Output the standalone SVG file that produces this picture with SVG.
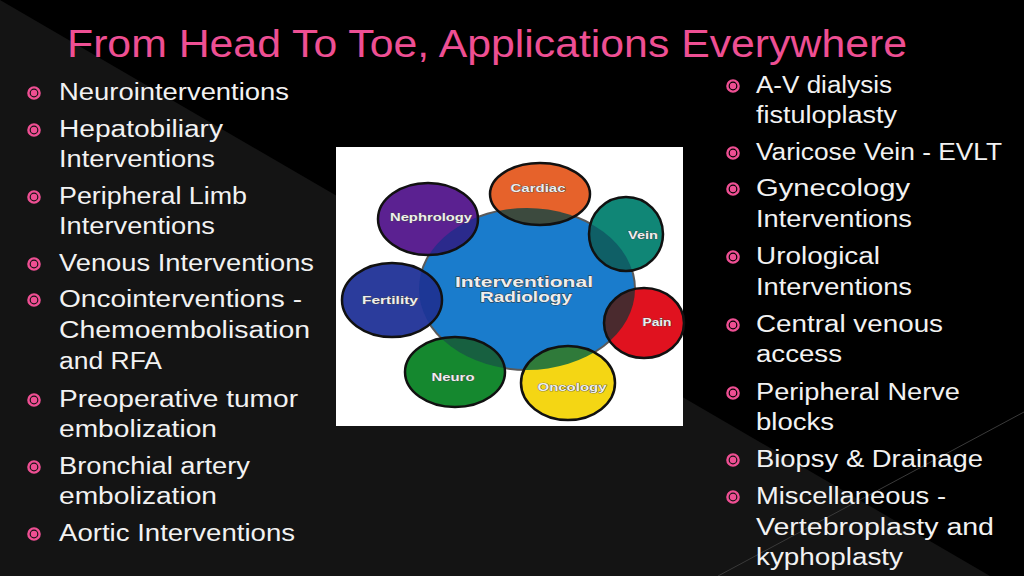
<svg xmlns="http://www.w3.org/2000/svg" width="1024" height="576" viewBox="0 0 1024 576">
<style>
.title{font-family:"Liberation Sans",Arial,sans-serif;font-size:38px;fill:#ee4f93}
.b{font-family:"Liberation Sans",Arial,sans-serif;font-size:23px;fill:#f2f2f2}
.ring{fill:none;stroke:#ee4f93;stroke-width:2.4}
.dot{fill:#ee4f93}
.lbl{font-family:"Liberation Sans",Arial,sans-serif;font-weight:bold;font-size:11px;fill:#eeeeee;stroke:#444;stroke-width:0.7px;paint-order:stroke;text-anchor:middle}
.clbl{font-family:"Liberation Sans",Arial,sans-serif;font-weight:bold;font-size:15px;fill:#eeeeee;stroke:#333;stroke-width:0.8px;paint-order:stroke;text-anchor:middle}
.edge{fill:none;stroke:#111;stroke-width:2.5}
</style>
<defs>
<clipPath id="clipBlue"><ellipse cx="527" cy="289" rx="108" ry="81"/></clipPath>
<symbol id="bul" overflow="visible"><circle class="ring" cx="0" cy="0" r="5.6"/><circle class="dot" cx="0" cy="0" r="3.2"/></symbol>
</defs>
<rect width="1024" height="576" fill="#000"/>
<polygon points="0,0 990,576 0,576" fill="#141414"/>
<line x1="718" y1="576" x2="1024" y2="412" stroke="#3a3a3a" stroke-width="1"/>

<text class="title" x="67" y="57" textLength="840" lengthAdjust="spacingAndGlyphs">From Head To Toe, Applications Everywhere</text>

<g id="left-list">
<use href="#bul" x="34" y="93"/><text class="b" x="59" y="100" textLength="230" lengthAdjust="spacingAndGlyphs">Neurointerventions</text>
<use href="#bul" x="34" y="130"/><text class="b" x="59" y="137" textLength="164" lengthAdjust="spacingAndGlyphs">Hepatobiliary</text>
<text class="b" x="59" y="167" textLength="156" lengthAdjust="spacingAndGlyphs">Interventions</text>
<use href="#bul" x="34" y="197"/><text class="b" x="59" y="204" textLength="188" lengthAdjust="spacingAndGlyphs">Peripheral Limb</text>
<text class="b" x="59" y="234" textLength="156" lengthAdjust="spacingAndGlyphs">Interventions</text>
<use href="#bul" x="34" y="264"/><text class="b" x="59" y="271" textLength="255" lengthAdjust="spacingAndGlyphs">Venous Interventions</text>
<use href="#bul" x="34" y="300"/><text class="b" x="59" y="307" textLength="243" lengthAdjust="spacingAndGlyphs">Oncointerventions -</text>
<text class="b" x="59" y="338" textLength="251" lengthAdjust="spacingAndGlyphs">Chemoembolisation</text>
<text class="b" x="59" y="369" textLength="103" lengthAdjust="spacingAndGlyphs">and RFA</text>
<use href="#bul" x="34" y="400"/><text class="b" x="59" y="407" textLength="239" lengthAdjust="spacingAndGlyphs">Preoperative tumor</text>
<text class="b" x="59" y="437" textLength="158" lengthAdjust="spacingAndGlyphs">embolization</text>
<use href="#bul" x="34" y="467"/><text class="b" x="59" y="474" textLength="191" lengthAdjust="spacingAndGlyphs">Bronchial artery</text>
<text class="b" x="59" y="504" textLength="158" lengthAdjust="spacingAndGlyphs">embolization</text>
<use href="#bul" x="34" y="534"/><text class="b" x="59" y="541" textLength="236" lengthAdjust="spacingAndGlyphs">Aortic Interventions</text>
</g>

<g id="right-list">
<use href="#bul" x="733" y="86"/><text class="b" x="756" y="93" textLength="136" lengthAdjust="spacingAndGlyphs">A-V dialysis</text>
<text class="b" x="756" y="123" textLength="141" lengthAdjust="spacingAndGlyphs">fistuloplasty</text>
<use href="#bul" x="733" y="153"/><text class="b" x="756" y="160" textLength="246" lengthAdjust="spacingAndGlyphs">Varicose Vein - EVLT</text>
<use href="#bul" x="733" y="189"/><text class="b" x="756" y="196" textLength="154" lengthAdjust="spacingAndGlyphs">Gynecology</text>
<text class="b" x="756" y="227" textLength="156" lengthAdjust="spacingAndGlyphs">Interventions</text>
<use href="#bul" x="733" y="257"/><text class="b" x="756" y="264" textLength="124" lengthAdjust="spacingAndGlyphs">Urological</text>
<text class="b" x="756" y="295" textLength="156" lengthAdjust="spacingAndGlyphs">Interventions</text>
<use href="#bul" x="733" y="325"/><text class="b" x="756" y="332" textLength="187" lengthAdjust="spacingAndGlyphs">Central venous</text>
<text class="b" x="756" y="362" textLength="86" lengthAdjust="spacingAndGlyphs">access</text>
<use href="#bul" x="733" y="393"/><text class="b" x="756" y="400" textLength="204" lengthAdjust="spacingAndGlyphs">Peripheral Nerve</text>
<text class="b" x="756" y="430" textLength="78" lengthAdjust="spacingAndGlyphs">blocks</text>
<use href="#bul" x="733" y="460"/><text class="b" x="756" y="467" textLength="227" lengthAdjust="spacingAndGlyphs">Biopsy &amp; Drainage</text>
<use href="#bul" x="733" y="497"/><text class="b" x="756" y="504" textLength="190" lengthAdjust="spacingAndGlyphs">Miscellaneous -</text>
<text class="b" x="756" y="535" textLength="238" lengthAdjust="spacingAndGlyphs">Vertebroplasty and</text>
<text class="b" x="756" y="565" textLength="147" lengthAdjust="spacingAndGlyphs">kyphoplasty</text>
</g>

<g id="picture">
<rect x="336" y="147" width="347" height="279" fill="#fff"/>
<g id="center-node">
<ellipse cx="527" cy="289" rx="108" ry="81" fill="#1a7ccc" stroke="#5a5a5a" stroke-width="2"/>
</g>
<g id="nephrology">
<ellipse cx="428" cy="219" rx="50" ry="36" fill="#5b2191"/>
<ellipse cx="428" cy="219" rx="50" ry="36" fill="#2b2a8c" clip-path="url(#clipBlue)"/>
<ellipse class="edge" cx="428" cy="219" rx="50" ry="36"/>
<text class="lbl" x="431" y="221" textLength="82" lengthAdjust="spacingAndGlyphs">Nephrology</text>
</g>
<g id="cardiac">
<ellipse cx="540" cy="194" rx="50" ry="31" fill="#e6622b"/>
<ellipse cx="540" cy="194" rx="50" ry="31" fill="#3c4a3e" clip-path="url(#clipBlue)"/>
<ellipse class="edge" cx="540" cy="194" rx="50" ry="31"/>
<text class="lbl" x="538" y="192" textLength="55" lengthAdjust="spacingAndGlyphs">Cardiac</text>
</g>
<g id="vein">
<ellipse cx="626" cy="234" rx="37" ry="37" fill="#108676"/>
<ellipse cx="626" cy="234" rx="37" ry="37" fill="#0f5f66" clip-path="url(#clipBlue)"/>
<ellipse class="edge" cx="626" cy="234" rx="37" ry="37"/>
<text class="lbl" x="643" y="239" textLength="30" lengthAdjust="spacingAndGlyphs">Vein</text>
</g>
<g id="fertility">
<ellipse cx="392" cy="300" rx="50" ry="37" fill="#2b3c9c"/>
<ellipse cx="392" cy="300" rx="50" ry="37" fill="#1d3796" clip-path="url(#clipBlue)"/>
<ellipse class="edge" cx="392" cy="300" rx="50" ry="37"/>
<text class="lbl" x="390" y="304" textLength="56" lengthAdjust="spacingAndGlyphs">Fertility</text>
</g>
<g id="pain">
<ellipse cx="644" cy="323" rx="40" ry="35" fill="#e0121f"/>
<ellipse cx="644" cy="323" rx="40" ry="35" fill="#4a2a2e" clip-path="url(#clipBlue)"/>
<ellipse class="edge" cx="644" cy="323" rx="40" ry="35"/>
<text class="lbl" x="657" y="326" textLength="29" lengthAdjust="spacingAndGlyphs">Pain</text>
</g>
<g id="neuro">
<ellipse cx="455" cy="372" rx="50" ry="35" fill="#15882f"/>
<ellipse cx="455" cy="372" rx="50" ry="35" fill="#176040" clip-path="url(#clipBlue)"/>
<ellipse class="edge" cx="455" cy="372" rx="50" ry="35"/>
<text class="lbl" x="453" y="381" textLength="43" lengthAdjust="spacingAndGlyphs">Neuro</text>
</g>
<g id="oncology">
<ellipse cx="568" cy="383" rx="47" ry="37" fill="#f4d614"/>
<ellipse cx="568" cy="383" rx="47" ry="37" fill="#2f7a3a" clip-path="url(#clipBlue)"/>
<ellipse class="edge" cx="568" cy="383" rx="47" ry="37"/>
<text class="lbl" x="572" y="391" textLength="69" lengthAdjust="spacingAndGlyphs">Oncology</text>
</g>
<text class="clbl" x="524" y="287" textLength="138" lengthAdjust="spacingAndGlyphs">Interventional</text>
<text class="clbl" x="526" y="302" textLength="92" lengthAdjust="spacingAndGlyphs">Radiology</text>
</g>
<g id="connectors"></g>
</svg>
